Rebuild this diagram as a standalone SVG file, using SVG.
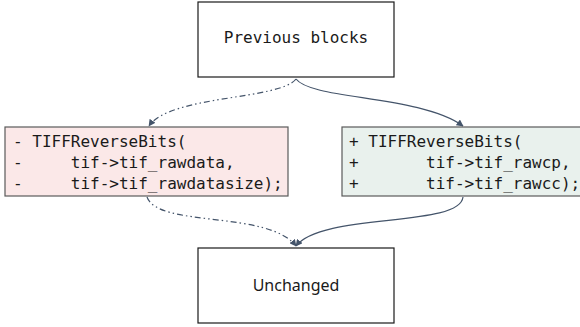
<svg xmlns="http://www.w3.org/2000/svg" width="580" height="327" viewBox="0 0 580 327">
  <style>
    .box { fill: #ffffff; stroke: #1a1a1a; stroke-width: 1.2; }
    .del { fill: #fbe8e8; stroke: #5a5a5a; stroke-width: 1.2; }
    .add { fill: #e9f1ed; stroke: #5a5a5a; stroke-width: 1.2; }
    .mono { font-family: "DejaVu Sans Mono", "Liberation Mono", monospace; font-size: 16px; fill: #1a1a1a; white-space: pre; }
    .label { font-family: "Noto Sans", "Liberation Sans", sans-serif; font-size: 16px; fill: #1a1a1a; }
    .edge { fill: none; stroke: #44546a; stroke-width: 1.2; }
    .dashdot { stroke-dasharray: 6 3 1.5 3 1.5 3; }
  </style>
  <defs>
    <marker id="arrow" viewBox="0 0 10 10" refX="9" refY="5" markerWidth="7" markerHeight="7" orient="auto" markerUnits="userSpaceOnUse">
      <path d="M0,0 L10,5 L0,10 z" fill="#44546a"/>
    </marker>
  </defs>

  <g id="connectors">
    <path class="edge dashdot" d="M296,79 C280,100 170,95 149,126" marker-end="url(#arrow)"/>
    <path class="edge" d="M296,79 C312,100 420,95 463,126" marker-end="url(#arrow)"/>
    <path class="edge dashdot" d="M147,197 C158,228 268,210 296,246" marker-end="url(#arrow)"/>
    <path class="edge" d="M463,197 C460,228 322,212 296,246" marker-end="url(#arrow)"/>
  </g>

  <g id="previous-blocks">
    <rect class="box" x="198" y="2" width="196" height="75"/>
    <text class="mono" x="296" y="43" text-anchor="middle">Previous blocks</text>
  </g>

  <g id="removed-lines">
    <rect class="del" x="5" y="127" width="283" height="69"/>
    <text class="mono" x="13" y="147">- TIFFReverseBits(</text>
    <text class="mono" x="13" y="168">-     tif-&gt;tif_rawdata,</text>
    <text class="mono" x="13" y="189">-     tif-&gt;tif_rawdatasize);</text>
  </g>

  <g id="added-lines">
    <rect class="add" x="342" y="127" width="240" height="69"/>
    <text class="mono" x="349" y="147">+ TIFFReverseBits(</text>
    <text class="mono" x="349" y="168">+       tif-&gt;tif_rawcp,</text>
    <text class="mono" x="349" y="189">+       tif-&gt;tif_rawcc);</text>
  </g>

  <g id="unchanged">
    <rect class="box" x="198" y="248" width="196" height="75"/>
    <text class="label" x="296" y="291" text-anchor="middle">Unchanged</text>
  </g>
</svg>
